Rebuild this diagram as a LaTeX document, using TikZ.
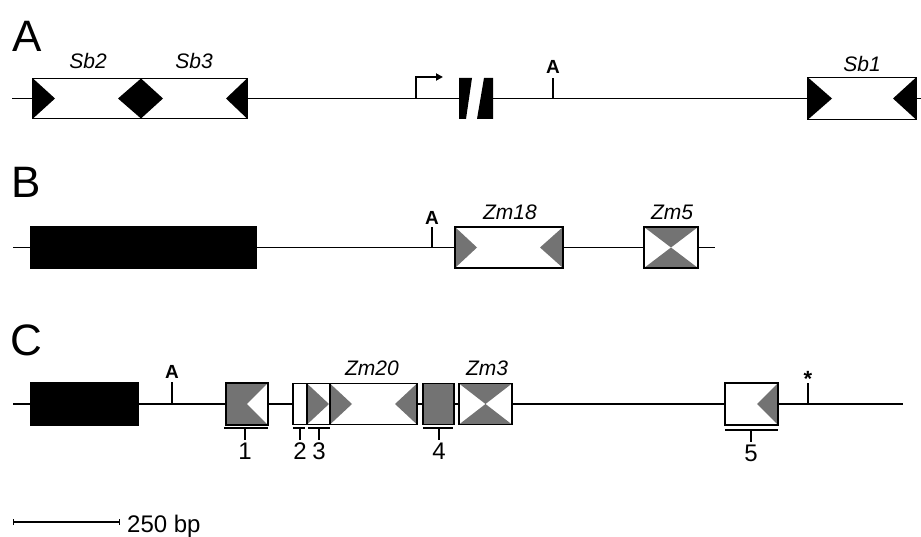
\documentclass[tikz,border=0pt]{standalone}
\usepackage{fontspec}
\setmainfont{Liberation Sans}
\usetikzlibrary{arrows.meta}
\tikzset{
  seg/.style={line width=1.8pt},
  gbox/.style={draw, line width=1.8pt, rectangle, inner sep=0pt},
  gry/.style={fill=black!55},
  panel/.style={font=\fontsize{44}{44}\selectfont, inner sep=0pt},
  gene/.style={font=\fontsize{21}{21}\selectfont\itshape, inner sep=0pt},
  site/.style={font=\fontsize{19}{19}\selectfont\bfseries, inner sep=0pt},
  num/.style={font=\fontsize{24}{24}\selectfont, inner sep=0pt},
}
\begin{document}
\begin{tikzpicture}[x=1pt,y=-1pt]
\useasboundingbox (0,0) rectangle (921,537);

% ---------- Panel A ----------
\node[panel] (pa) at (27,36) {A};
\fill (33,78.5) -- (55,98.5) -- (33,118.5) -- cycle;
\fill (141,78.5) -- (163,98.5) -- (141,118.5) -- (118,98.5) -- cycle;
\fill (247,78.5) -- (226,98.5) -- (247,118.5) -- cycle;
\fill (459,78) -- (472,78) -- (466,119) -- (459,119) -- cycle;
\fill (484,78) -- (493,78) -- (493,119) -- (477,119) -- cycle;
\fill (808,77.5) -- (832,98.5) -- (808,119.5) -- cycle;
\fill (916,77.5) -- (893,98.5) -- (916,119.5) -- cycle;

\node[gbox, minimum width=214pt, minimum height=40pt] (sb23) at (140,98.5) {};
\draw[seg] (141,78.5) -- (141,118.5);
\node[inner sep=0pt, minimum width=34pt, minimum height=41pt] (brk) at (476,98.5) {};
\node[gbox, minimum width=108pt, minimum height=42pt] (sb1) at (862,98.5) {};
\coordinate (a0) at (12,98.5);
\coordinate (a1) at (921,98.5);
\draw[seg] (a0) -- (sb23.west);
\draw[seg] (sb23.east) -- (brk.west);
\draw[seg] (brk.east) -- (sb1.west);
\draw[seg] (sb1.east) -- (a1);

\coordinate (tss) at (416,98.5);
\coordinate (tssend) at (443,77);
\draw[seg, -{Triangle[length=7pt,width=7pt]}] (tss) |- (tssend);

\coordinate (pA) at (553,98.5);
\node[site] (lA) at (553,67) {A};
\draw[seg] (pA) -- ++(0,-20.5);

\node[gene] (tsb2) at (88,61) {Sb2};
\node[gene] (tsb3) at (194,61) {Sb3};
\node[gene] (tsb1) at (862,64) {Sb1};

% ---------- Panel B ----------
\node[panel] (pb) at (26,182) {B};
\fill[gry] (455,227) -- (477,247.5) -- (455,268) -- cycle;
\fill[gry] (563,227) -- (540,247.5) -- (563,268) -- cycle;
\fill[gry] (644,227) -- (698,227) -- (671,247.5) -- cycle;
\fill[gry] (644,268) -- (698,268) -- (671,247.5) -- cycle;

\node[gbox, fill=black, minimum width=225pt, minimum height=42pt] (bk1) at (143.5,247.5) {};
\node[gbox, minimum width=108pt, minimum height=41pt] (zm18) at (509,247.5) {};
\node[gbox, minimum width=54pt, minimum height=41pt] (zm5) at (671,247.5) {};
\coordinate (b0) at (13,247.5);
\coordinate (b1e) at (715,247.5);
\draw[seg] (b0) -- (bk1.west);
\draw[seg] (bk1.east) -- (zm18.west);
\draw[seg] (zm18.east) -- (zm5.west);
\draw[seg] (zm5.east) -- (b1e);

\coordinate (pB) at (432,247.5);
\node[site] (lB) at (432,218) {A};
\draw[seg] (pB) -- ++(0,-20.5);

\node[gene] (tzm18) at (510,212) {Zm18};
\node[gene] (tzm5) at (672,212) {Zm5};

% ---------- Panel C ----------
\node[panel] (pc) at (26,340) {C};
\fill[gry] (226,383) rectangle (268,425);
\fill[white] (268,383) -- (247,404) -- (268,425) -- cycle;
\fill[gry] (307,383.5) -- (329,404) -- (307,424.5) -- cycle;
\fill[gry] (330,383.5) -- (352,404) -- (330,424.5) -- cycle;
\fill[gry] (417,383.5) -- (395,404) -- (417,424.5) -- cycle;
\fill[gry] (423,383.5) rectangle (454,424.5);
\fill[gry] (459,383.5) -- (512,383.5) -- (485.5,404) -- cycle;
\fill[gry] (459,424.5) -- (512,424.5) -- (485.5,404) -- cycle;
\fill[gry] (778,383) -- (757,404) -- (778,425) -- cycle;

\node[gbox, fill=black, minimum width=107pt, minimum height=42pt] (bk2) at (84.5,404) {};
\node[gbox, minimum width=42pt, minimum height=42pt] (c1) at (247,404) {};
\node[gbox, minimum width=14pt, minimum height=41pt] (c2) at (300,404) {};
\node[gbox, minimum width=23pt, minimum height=41pt] (c3) at (318.5,404) {};
\node[gbox, minimum width=87pt, minimum height=41pt] (zm20) at (373.5,404) {};
\node[gbox, minimum width=31pt, minimum height=41pt] (c4) at (438.5,404) {};
\node[gbox, minimum width=53pt, minimum height=41pt] (zm3) at (485.5,404) {};
\node[gbox, minimum width=53pt, minimum height=42pt] (c5) at (751.5,404) {};
\coordinate (c0) at (13,404);
\coordinate (cend) at (903,404);
\draw[seg] (c0) -- (bk2.west);
\draw[seg] (bk2.east) -- (c1.west);
\draw[seg] (c1.east) -- (c2.west);
\draw[seg] (zm20.east) -- (c4.west);
\draw[seg] (c4.east) -- (zm3.west);
\draw[seg] (zm3.east) -- (c5.west);
\draw[seg] (c5.east) -- (cend);

\coordinate (pC) at (172,404);
\node[site] (lC) at (172,372) {A};
\draw[seg] (pC) -- ++(0,-22);
\coordinate (pS) at (808,404);
\node[font=\fontsize{22}{22}\selectfont\bfseries, inner sep=0pt, anchor=base] (star) at (808,386) {*};
\draw[seg] (pS) -- ++(0,-21);

\node[gene] (tzm20) at (372,368) {Zm20};
\node[gene] (tzm3) at (487,368) {Zm3};

% brackets
\draw[seg] (224,428) -- (268,428) (245,428) -- (245,440);
\node[num] (n1) at (245,451) {1};
\draw[seg] (293,428) -- (305,428) (300,428) -- (300,440);
\node[num] (n2) at (300,451) {2};
\draw[seg] (308,428) -- (330,428) (319,428) -- (319,440);
\node[num] (n3) at (319,451) {3};
\draw[seg] (423,428) -- (453,428) (439,428) -- (439,440);
\node[num] (n4) at (439,451) {4};
\draw[seg] (725,430) -- (778,430) (751,430) -- (751,442);
\node[num] (n5) at (751,453) {5};

% ---------- scale bar ----------
\coordinate (s0) at (13,522);
\coordinate (s1) at (120,522);
\draw[line width=1.3pt, {Bar[width=6pt]}-{Bar[width=6pt]}] (s0) -- (s1);
\node[num, anchor=base west] (sl) at (127,532) {250 bp};
\end{tikzpicture}
\end{document}
